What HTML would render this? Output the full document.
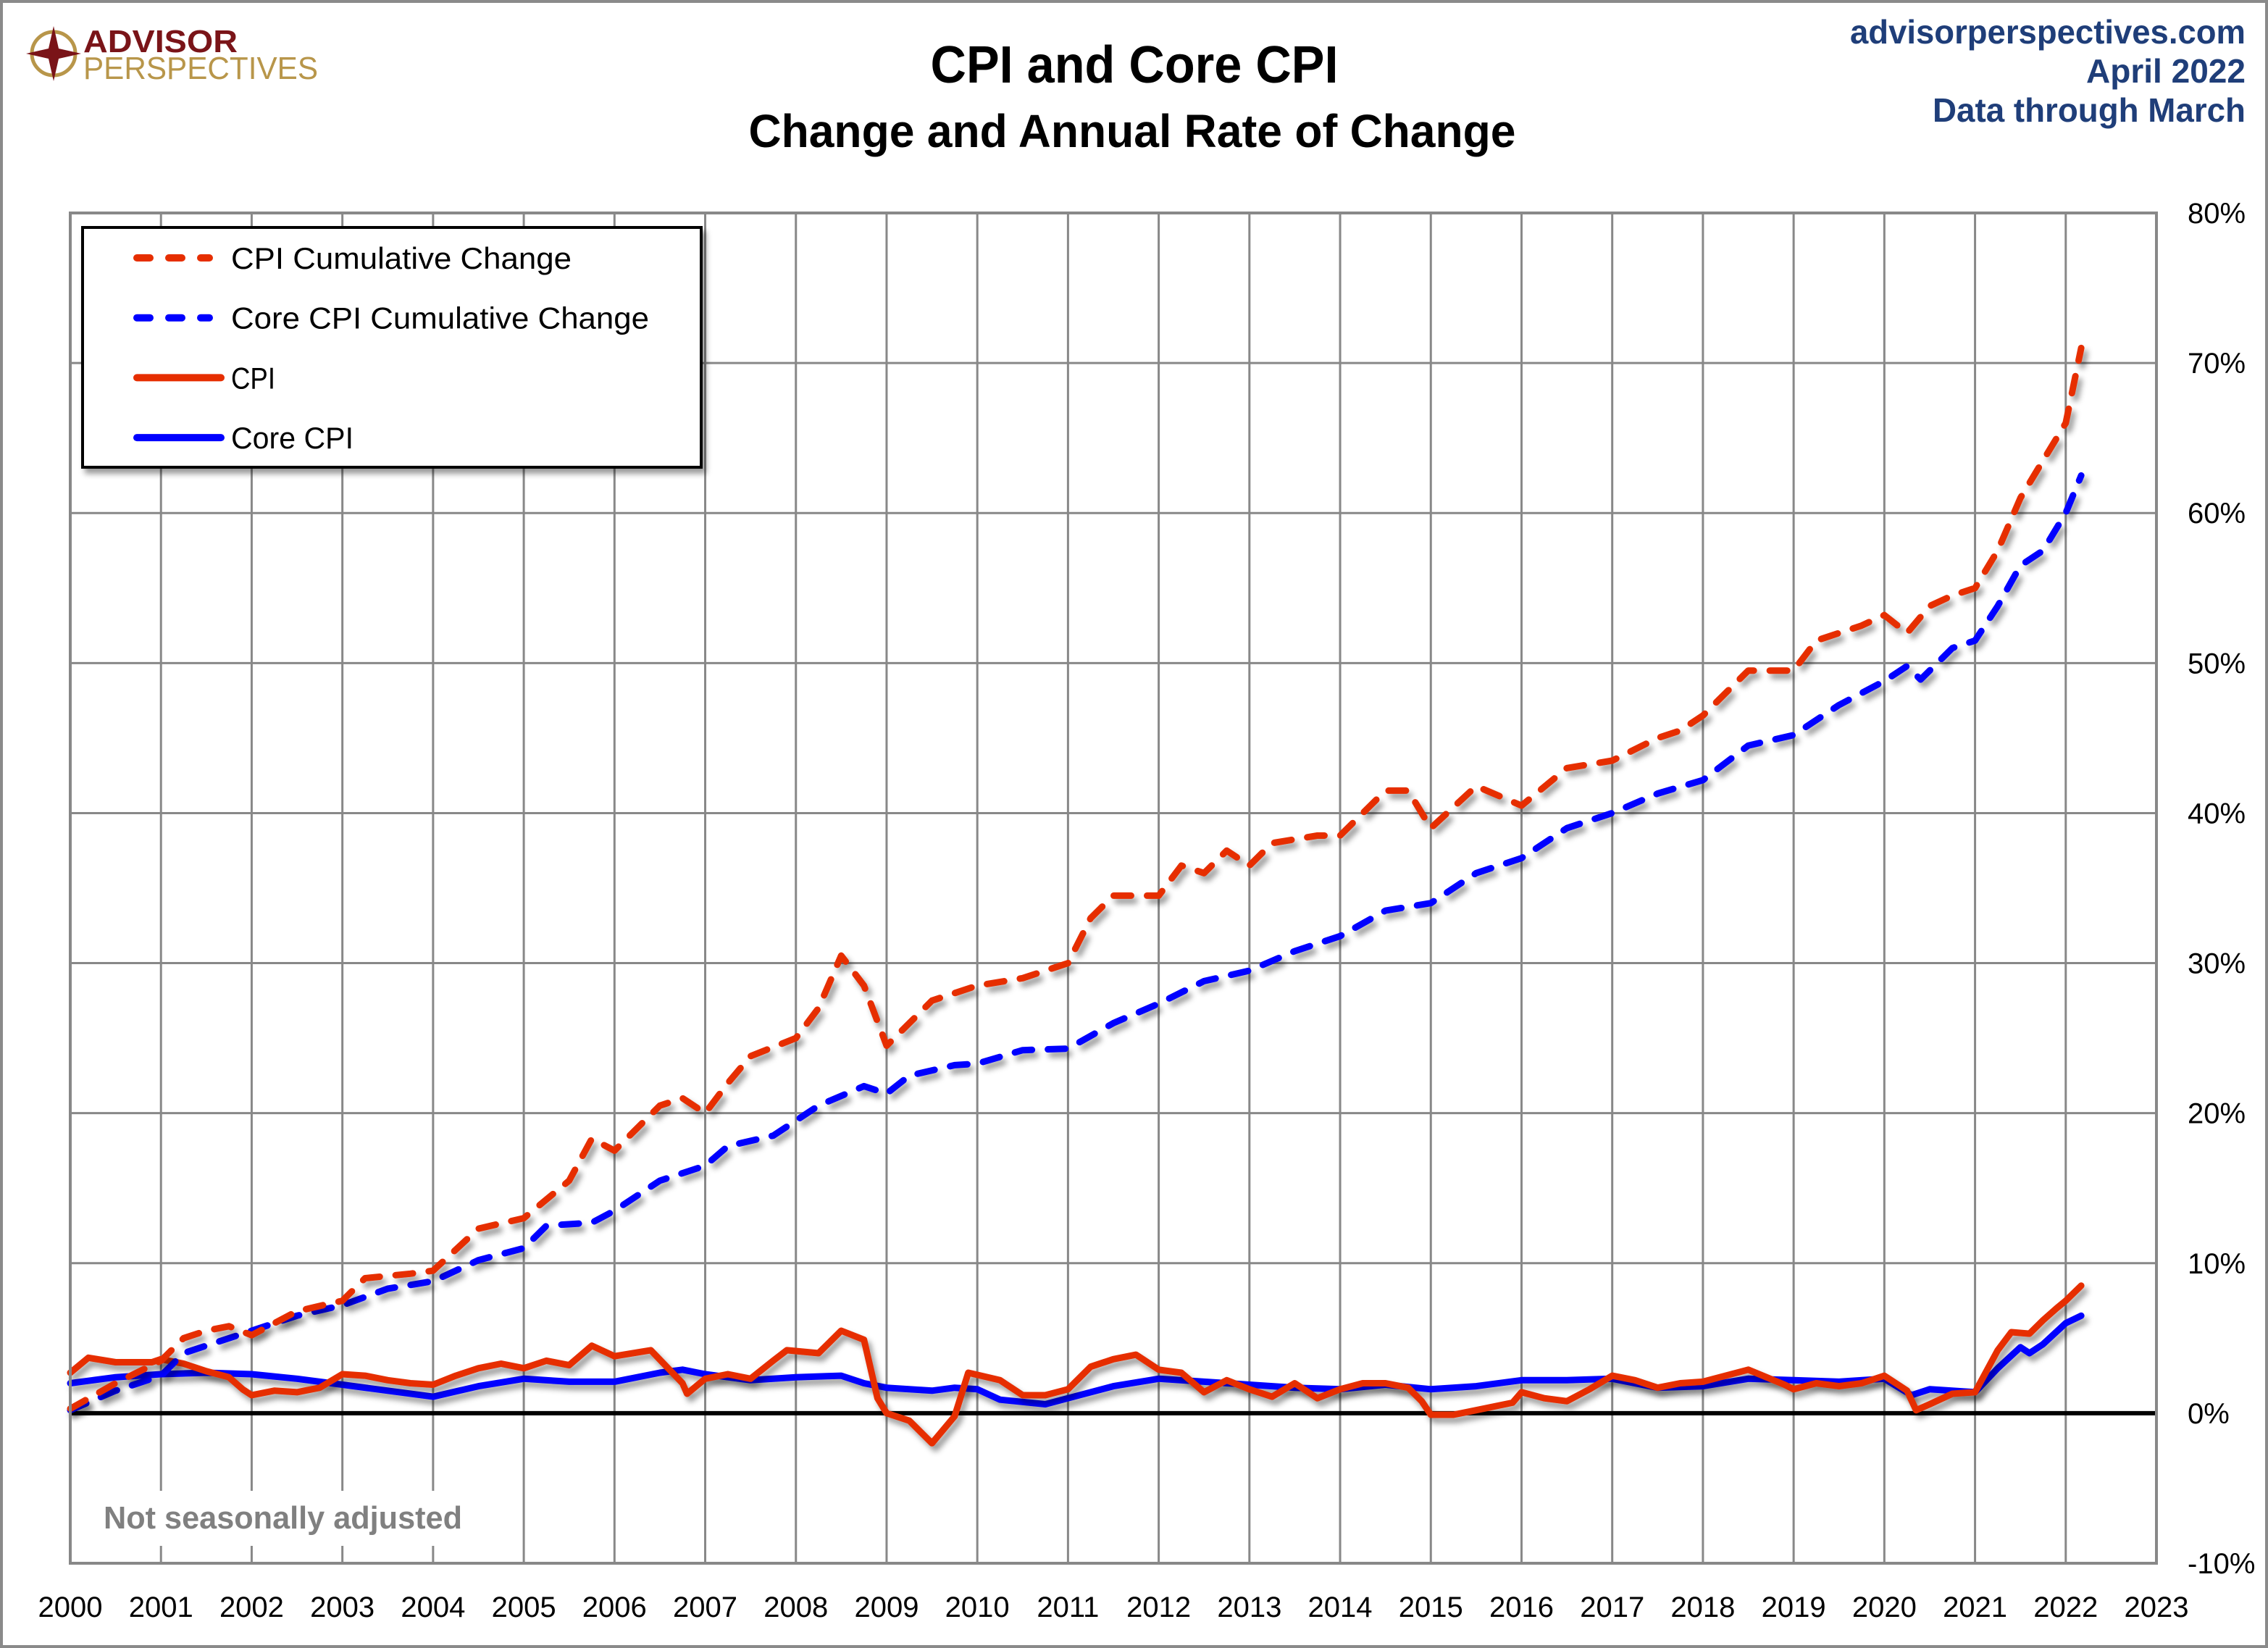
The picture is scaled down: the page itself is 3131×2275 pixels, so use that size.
<!DOCTYPE html>
<html><head><meta charset="utf-8"><style>
html,body{margin:0;padding:0;background:#fff;}
svg{display:block;font-family:"Liberation Sans",sans-serif;}
</style></head><body>
<svg id="chart" width="3131" height="2275" viewBox="0 0 3131 2275" xmlns="http://www.w3.org/2000/svg">
<defs>
<filter id="sh" x="-5%" y="-5%" width="110%" height="115%"><feDropShadow dx="5" dy="7" stdDeviation="4" flood-color="#000" flood-opacity="0.4"/></filter>
</defs>
<rect x="2" y="2" width="3127" height="2271" fill="#fff" stroke="#8a8a8a" stroke-width="4"/>
<g>
<circle cx="74" cy="74" r="30" fill="none" stroke="#b8964a" stroke-width="5"/>
<polygon points="74,36 81,67 112,74 81,81 74,112 67,81 36,74 67,67" fill="#7a1418"/>
<text x="115" y="72" font-size="44" font-weight="bold" fill="#7a1418" textLength="213" lengthAdjust="spacingAndGlyphs">ADVISOR</text>
<text x="115" y="109" font-size="44" fill="#b8964a" textLength="324" lengthAdjust="spacingAndGlyphs">PERSPECTIVES</text>
</g>
<text x="1566" y="114" font-size="72" font-weight="bold" text-anchor="middle" textLength="563" lengthAdjust="spacingAndGlyphs">CPI and Core CPI</text>
<text x="1563" y="203" font-size="64" font-weight="bold" text-anchor="middle" textLength="1059" lengthAdjust="spacingAndGlyphs">Change and Annual Rate of Change</text>
<g fill="#1f3e79" font-weight="bold" font-size="46" text-anchor="end">
<text x="3100" y="60" textLength="546" lengthAdjust="spacingAndGlyphs">advisorperspectives.com</text>
<text x="3100" y="114" textLength="220" lengthAdjust="spacingAndGlyphs">April 2022</text>
<text x="3100" y="168" textLength="432" lengthAdjust="spacingAndGlyphs">Data through March</text>
</g>
<g id="grid"></g>
<g id="series"></g>
<g id="axes"></g>
<g id="legend"></g>
</svg>
<script>
const years = [2000,2001,2002,2003,2004,2005,2006,2007,2008,2009,2010,2011,2012,2013,2014,2015,2016,2017,2018,2019,2020,2021,2022,2023];
const yTicks = [-10,0,10,20,30,40,50,60,70,80];
const cpiCumT = [2000.0,2000.5,2001.0,2001.25,2001.5,2001.75,2002.0,2002.5,2003.0,2003.25,2003.75,2004.0,2004.5,2005.0,2005.5,2005.75,2006.0,2006.5,2006.75,2007.0,2007.25,2007.5,2008.0,2008.25,2008.5,2008.75,2009.0,2009.25,2009.5,2010.0,2010.5,2011.0,2011.25,2011.5,2012.0,2012.25,2012.5,2012.75,2013.0,2013.25,2013.75,2014.0,2014.5,2014.75,2015.0,2015.5,2016.0,2016.5,2017.0,2017.5,2017.75,2018.0,2018.5,2019.0,2019.25,2019.75,2020.0,2020.25,2020.5,2020.75,2021.0,2021.25,2021.5,2021.75,2022.0,2022.17];
const cpiCumV = [0.3,2.0,3.5,5.0,5.5,5.8,5.2,6.8,7.5,9.0,9.3,9.5,12.3,13.0,15.5,18.3,17.5,20.5,21.0,20.0,22.0,23.8,25.0,27.0,30.5,28.5,24.5,26.0,27.5,28.5,29.0,30.0,33.0,34.5,34.5,36.5,36.0,37.5,36.5,38.0,38.5,38.5,41.5,41.5,39.0,41.8,40.5,43.0,43.5,45.0,45.5,46.5,49.5,49.5,51.5,52.5,53.2,52.0,53.8,54.5,55.0,57.5,61.0,63.5,66.0,71.0];
const coreCumT = [2000.0,2000.5,2001.0,2001.25,2002.0,2002.5,2003.0,2003.5,2004.0,2004.5,2005.0,2005.25,2005.75,2006.0,2006.5,2007.0,2007.25,2007.75,2008.0,2008.25,2008.75,2009.0,2009.25,2009.75,2010.0,2010.5,2011.0,2011.5,2012.0,2012.5,2013.0,2013.5,2014.0,2014.5,2015.0,2015.5,2016.0,2016.5,2017.0,2017.5,2018.0,2018.5,2019.0,2019.5,2020.0,2020.25,2020.4,2020.75,2021.0,2021.25,2021.5,2021.75,2022.0,2022.17];
const coreCumV = [0.2,1.5,2.5,4.0,5.5,6.5,7.2,8.3,8.8,10.2,11.0,12.5,12.7,13.5,15.5,16.5,17.8,18.5,19.5,20.5,21.8,21.3,22.5,23.2,23.3,24.2,24.3,26.0,27.3,28.8,29.5,30.8,31.8,33.5,34.0,36.0,37.0,39.0,40.0,41.3,42.2,44.5,45.2,47.2,48.8,49.8,48.9,51.0,51.5,53.8,56.5,57.5,60.0,62.5];
const cpiT = [2000.0,2000.2,2000.5,2000.9,2001.0,2001.25,2001.5,2001.75,2001.9,2002.0,2002.25,2002.5,2002.75,2003.0,2003.25,2003.5,2003.75,2004.0,2004.25,2004.5,2004.75,2005.0,2005.25,2005.5,2005.75,2006.0,2006.4,2006.75,2006.8,2007.0,2007.25,2007.5,2007.75,2007.9,2008.25,2008.5,2008.75,2008.9,2009.0,2009.25,2009.5,2009.75,2009.9,2010.25,2010.5,2010.75,2011.0,2011.25,2011.5,2011.75,2012.0,2012.25,2012.5,2012.75,2013.0,2013.25,2013.5,2013.75,2014.0,2014.25,2014.5,2014.75,2014.9,2015.0,2015.25,2015.5,2015.9,2016.0,2016.25,2016.5,2016.75,2017.0,2017.25,2017.5,2017.75,2018.0,2018.5,2018.9,2019.0,2019.25,2019.5,2019.75,2020.0,2020.25,2020.35,2020.5,2020.75,2021.0,2021.25,2021.4,2021.6,2021.75,2021.9,2022.0,2022.17];
const cpiV = [2.7,3.7,3.4,3.4,3.6,3.3,2.8,2.4,1.6,1.2,1.5,1.4,1.7,2.6,2.5,2.2,2.0,1.9,2.5,3.0,3.3,3.0,3.5,3.2,4.5,3.8,4.2,2.0,1.3,2.3,2.6,2.3,3.5,4.2,4.0,5.5,4.9,1.0,0.0,-0.5,-2.0,-0.2,2.7,2.2,1.2,1.2,1.6,3.1,3.6,3.9,2.9,2.7,1.4,2.2,1.6,1.1,2.0,1.0,1.6,2.0,2.0,1.7,0.8,-0.1,-0.1,0.2,0.7,1.4,1.0,0.8,1.6,2.5,2.2,1.7,2.0,2.1,2.9,1.9,1.6,2.0,1.8,2.0,2.5,1.5,0.2,0.6,1.3,1.4,4.2,5.4,5.3,6.2,7.0,7.5,8.5];
const coreT = [2000.0,2000.5,2001.0,2001.5,2002.0,2002.5,2003.0,2003.5,2004.0,2004.5,2005.0,2005.5,2006.0,2006.5,2006.75,2007.0,2007.5,2008.0,2008.5,2008.75,2009.0,2009.5,2009.75,2010.0,2010.25,2010.75,2011.0,2011.5,2012.0,2012.5,2013.0,2013.5,2014.0,2014.5,2015.0,2015.5,2016.0,2016.5,2017.0,2017.5,2018.0,2018.5,2019.0,2019.5,2020.0,2020.3,2020.5,2021.0,2021.25,2021.5,2021.6,2021.75,2022.0,2022.17];
const coreV = [2.0,2.4,2.6,2.7,2.6,2.3,1.9,1.5,1.1,1.8,2.3,2.1,2.1,2.7,2.9,2.6,2.2,2.4,2.5,2.0,1.7,1.5,1.7,1.6,0.9,0.6,1.0,1.8,2.3,2.1,1.9,1.7,1.6,1.9,1.6,1.8,2.2,2.2,2.3,1.7,1.8,2.3,2.2,2.1,2.3,1.2,1.6,1.4,3.0,4.4,4.0,4.6,6.0,6.5];

const L=97,R=2977,T=294,B=2158;
function xS(t){return L+(t-2000)*(R-L)/23;}
function yS(v){return B-(v+10)*(B-T)/90;}
const NS="http://www.w3.org/2000/svg";
function mk(tag,parent){const e=document.createElementNS(NS,tag);parent.appendChild(e);return e;}
const grid=document.getElementById('grid'),series=document.getElementById('series'),axes=document.getElementById('axes'),legend=document.getElementById('legend');

yTicks.forEach(v=>{
  const l=mk('line',grid);
  
  
  l.setAttribute('x1',L);l.setAttribute('x2',R);l.setAttribute('y1',yS(v));l.setAttribute('y2',yS(v));
  l.setAttribute('stroke','#888');l.setAttribute('stroke-width','3');
  const t=mk('text',axes);
  
  
  t.setAttribute('x',3020);t.setAttribute('y',yS(v)+14);t.setAttribute('font-size','40');
  t.textContent=v+'%';
});
years.forEach(y=>{
  const l=mk('line',grid);
  
  
  l.setAttribute('x1',xS(y));l.setAttribute('x2',xS(y));l.setAttribute('y1',T);l.setAttribute('y2',B);
  l.setAttribute('stroke','#888');l.setAttribute('stroke-width','3');
  const t=mk('text',axes);
  
  
  t.setAttribute('x',xS(y));t.setAttribute('y',2232);t.setAttribute('font-size','40');t.setAttribute('text-anchor','middle');
  t.textContent=y;
});
const wb=mk('rect',grid);


wb.setAttribute('x',100);wb.setAttribute('y',2058);wb.setAttribute('width',560);wb.setAttribute('height',76);wb.setAttribute('fill','#fff');
const note=mk('text',grid);


note.setAttribute('x',143);note.setAttribute('y',2110);note.setAttribute('font-size','44');note.setAttribute('font-weight','bold');note.setAttribute('fill','#808080');
note.setAttribute('textLength','495');note.setAttribute('lengthAdjust','spacingAndGlyphs');
note.textContent='Not seasonally adjusted';
const zl=mk('line',grid);


zl.setAttribute('x1',L);zl.setAttribute('x2',R);zl.setAttribute('y1',yS(0));zl.setAttribute('y2',yS(0));zl.setAttribute('stroke','#000');zl.setAttribute('stroke-width','6');

function path(ts,vs,color,dash,name){
  const p=mk('path',series);
  
  
  p.setAttribute('d',ts.map((t,i)=>(i?'L':'M')+xS(t).toFixed(1)+' '+yS(vs[i]).toFixed(1)).join(' '));
  p.setAttribute('fill','none');p.setAttribute('stroke',color);p.setAttribute('stroke-width','9');
  p.setAttribute('stroke-linecap','round');p.setAttribute('stroke-linejoin','round');
  if(dash)p.setAttribute('stroke-dasharray','24 22');
  p.setAttribute('filter','url(#sh)');
}
path(coreT,coreV,'#0000ff',false,'core-cpi-line');
path(cpiT,cpiV,'#e62e00',false,'cpi-line');
path(coreCumT,coreCumV,'#0000ff',true,'core-cpi-cumulative-line');
path(cpiCumT,cpiCumV,'#e62e00',true,'cpi-cumulative-line');

const box=mk('rect',legend);


box.setAttribute('x',114);box.setAttribute('y',314);box.setAttribute('width',854);box.setAttribute('height',331);
box.setAttribute('fill','#fff');box.setAttribute('stroke','#000');box.setAttribute('stroke-width','4');box.setAttribute('filter','url(#sh)');
const legNames=['CPI Cumulative Change','Core CPI Cumulative Change','CPI','Core CPI'];
const legColors=['#e62e00','#0000ff','#e62e00','#0000ff'];
const legDash=[true,true,false,false];
const legW=[470,577,61,169];
legNames.forEach((n,i)=>{
  const y=356+i*82.7;
  const l=mk('line',legend);
  
  
  l.setAttribute('x1',189);l.setAttribute('x2',legDash[i]?289:305);l.setAttribute('y1',y);l.setAttribute('y2',y);
  l.setAttribute('stroke',legColors[i]);l.setAttribute('stroke-width','10');l.setAttribute('stroke-linecap','round');
  if(legDash[i])l.setAttribute('stroke-dasharray','18 26');
  const t=mk('text',legend);
  
  
  t.setAttribute('x',319);t.setAttribute('y',y+15);t.setAttribute('font-size','42');
  t.setAttribute('textLength',legW[i]);t.setAttribute('lengthAdjust','spacingAndGlyphs');
  t.textContent=n;
});
const bd=mk('path',axes);


bd.setAttribute('d',`M${L} ${T} H${R} V${B} H${L} Z`);bd.setAttribute('fill','none');bd.setAttribute('stroke','#888');bd.setAttribute('stroke-width','4');
</script>
</body></html>
